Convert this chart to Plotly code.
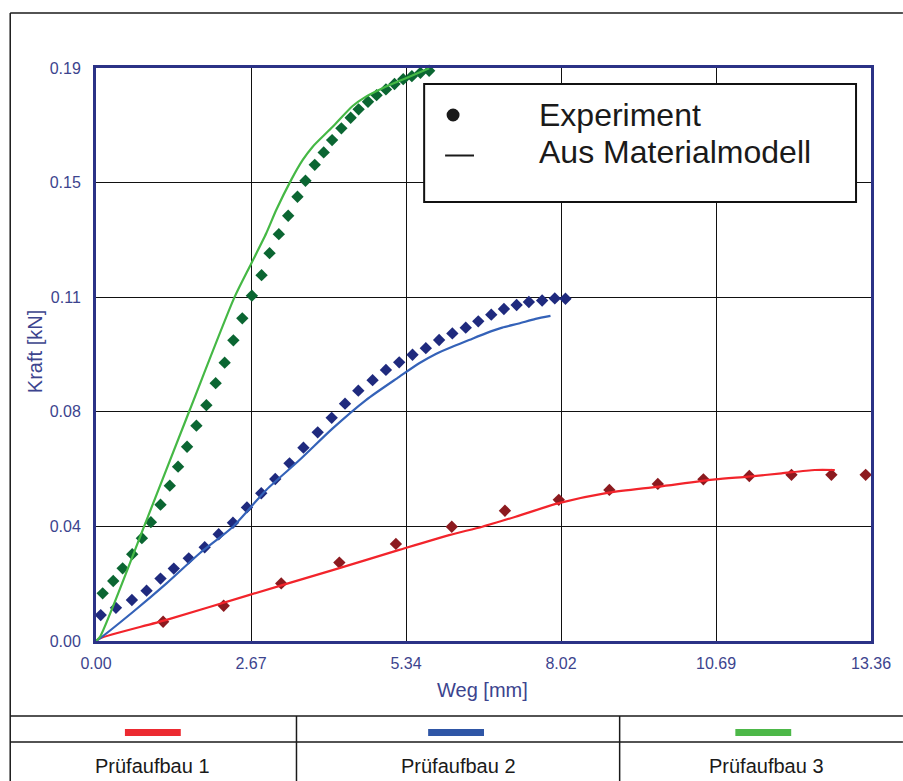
import plotly.graph_objects as go

# ---- data: Weg [mm] / Kraft [kN] ----
# Prüfaufbau 1 (red)
exp1_x = [1.157, 2.201, 3.193, 4.195, 5.170, 6.133, 7.050, 7.978, 8.850, 9.685,
          10.471, 11.262, 11.989, 12.677, 13.268]
exp1_y = [0.0064, 0.0117, 0.0191, 0.0260, 0.0322, 0.0379, 0.0432, 0.0468, 0.0501, 0.0521,
          0.0536, 0.0547, 0.0551, 0.0551, 0.0551]
mod1_x = [0.0, 0.069, 1.216, 2.648, 4.080, 5.227, 6.087, 6.659, 7.233, 7.978, 8.838,
          9.697, 10.672, 11.245, 11.817, 12.392, 12.736]
mod1_y = [0.0, 0.0009, 0.0070, 0.0153, 0.0235, 0.0302, 0.0351, 0.0379, 0.0412, 0.0457, 0.0492,
          0.0512, 0.0536, 0.0545, 0.0556, 0.0567, 0.0567]

# Prüfaufbau 2 (blue)
exp2_x = [0.081, 0.344, 0.619, 0.872, 1.112, 1.341, 1.599, 1.874, 2.115, 2.361,
          2.602, 2.849, 3.090, 3.336, 3.576, 3.822, 4.063, 4.293, 4.522, 4.768,
          4.998, 5.227, 5.456, 5.686, 5.915, 6.143, 6.374, 6.590, 6.814, 7.032,
          7.251, 7.462, 7.691, 7.909, 8.093]
exp2_y = [0.0086, 0.0110, 0.0136, 0.0167, 0.0207, 0.0240, 0.0274, 0.0311, 0.0354, 0.0392,
          0.0443, 0.0490, 0.0537, 0.0589, 0.0641, 0.0692, 0.0740, 0.0787, 0.0830, 0.0865,
          0.0899, 0.0924, 0.0949, 0.0971, 0.0998, 0.1020, 0.1039, 0.1060, 0.1082, 0.1101,
          0.1114, 0.1124, 0.1129, 0.1136, 0.1135]
mod2_x = [0.0, 0.069, 0.641, 1.216, 1.788, 2.361, 2.935, 3.508, 4.080, 4.654, 5.227,
          5.571, 5.858, 6.143, 6.431, 6.718, 7.003, 7.290, 7.577, 7.835]
mod2_y = [0.0, 0.0009, 0.0097, 0.0191, 0.0291, 0.0379, 0.0501, 0.0600, 0.0705, 0.0799, 0.0876,
          0.0921, 0.0952, 0.0976, 0.0998, 0.1020, 0.1039, 0.1053, 0.1068, 0.1078]

# Prüfaufbau 3 (green)
exp3_x = [0.115, 0.297, 0.459, 0.624, 0.791, 0.946, 1.112, 1.272, 1.415, 1.570,
          1.731, 1.903, 2.063, 2.218, 2.368, 2.522, 2.687, 2.854, 2.992, 3.152,
          3.313, 3.473, 3.611, 3.771, 3.925, 4.070, 4.230, 4.390, 4.527, 4.689,
          4.837, 4.998, 5.146, 5.296, 5.445, 5.593, 5.743]
exp3_y = [0.0158, 0.0199, 0.0241, 0.0288, 0.0341, 0.0394, 0.0452, 0.0515, 0.0578, 0.0644,
          0.0714, 0.0782, 0.0855, 0.0923, 0.0997, 0.1070, 0.1145, 0.1213, 0.1286, 0.1349,
          0.1410, 0.1473, 0.1526, 0.1579, 0.1620, 0.1661, 0.1700, 0.1735, 0.1763, 0.1788,
          0.1810, 0.1829, 0.1847, 0.1863, 0.1873, 0.1884, 0.1891]
mod3_x = [0.0, 0.069, 0.872, 1.616, 2.390, 2.677, 2.935, 3.107, 3.365, 3.564, 3.736,
          4.080, 4.424, 4.654, 4.940, 5.342, 5.743]
mod3_y = [0.0, 0.0014, 0.0401, 0.0766, 0.1141, 0.1252, 0.1352, 0.1429, 0.1529, 0.1595, 0.1639,
          0.1705, 0.1774, 0.1805, 0.1833, 0.1866, 0.1899]

x_ticks = [0.0, 2.672, 5.344, 8.016, 10.688, 13.36]
x_labels = ["0.00", "2.67", "5.34", "8.02", "10.69", "13.36"]
y_ticks = [0.0, 0.038, 0.076, 0.114, 0.152, 0.19]
y_labels = ["0.00", "0.04", "0.08", "0.11", "0.15", "0.19"]

setups = ["Prüfaufbau 1", "Prüfaufbau 2", "Prüfaufbau 3"]
line_colors = ["#f2242b", "#3462b8", "#45b845"]
marker_colors = ["#8c1a1f", "#1f2a7e", "#0b6632"]
swatch_colors = ["#ec2a31", "#2f56a6", "#4db849"]

legend_texts = ["Experiment", "Aus Materialmodell"]

# ---- geometry of the page ----
W, H = 903, 781
L, R, T, B = 96, 873, 68, 641
AXIS_BLUE = "#2b3286"
TEXT_BLUE = "#3c448e"
FONT = "Liberation Sans, Arial, sans-serif"


def xp(px):
    return (px - L) / (R - L)


def yp(py):
    return (B - py) / (B - T)


fig = go.Figure()

series = [
    (exp1_x, exp1_y, mod1_x, mod1_y),
    (exp2_x, exp2_y, mod2_x, mod2_y),
    (exp3_x, exp3_y, mod3_x, mod3_y),
]
for i, (ex, ey, mx, my) in enumerate(series):
    fig.add_trace(go.Scatter(
        x=ex, y=ey, mode="markers", name=setups[i] + " Experiment",
        marker=dict(symbol="diamond", size=9.5, color=marker_colors[i], line=dict(width=0)),
        showlegend=False, cliponaxis=False,
    ))
    fig.add_trace(go.Scatter(
        x=mx, y=my, mode="lines", name=setups[i] + " Materialmodell",
        line=dict(color=line_colors[i], width=2.2, shape="spline", smoothing=0.7),
        showlegend=False,
    ))

axis_common = dict(
    showline=True, linecolor=AXIS_BLUE, linewidth=3, mirror=True,
    showgrid=True, gridcolor="#111111", gridwidth=1.4,
    zeroline=False, ticks="",
    tickfont=dict(family=FONT, size=16, color=TEXT_BLUE),
)
fig.update_xaxes(range=[0, 13.36], tickmode="array", tickvals=x_ticks, ticktext=x_labels,
                 ticklabelstandoff=6, **axis_common)
fig.update_yaxes(range=[0, 0.19], tickmode="array", tickvals=y_ticks, ticktext=y_labels,
                 ticklabelstandoff=9, **axis_common)

shapes = []
annotations = []

# outer frame (top and left edges) and the table below the plot
frame = dict(color="#1a1a1a", width=1.5)
shapes.append(dict(type="line", xref="paper", yref="paper",
                   x0=xp(10), x1=xp(905), y0=yp(13), y1=yp(13), line=frame))
shapes.append(dict(type="line", xref="paper", yref="paper",
                   x0=xp(10), x1=xp(10), y0=yp(13), y1=yp(783), line=frame))
for yy in (716, 742):
    shapes.append(dict(type="line", xref="paper", yref="paper",
                       x0=xp(10), x1=xp(905), y0=yp(yy), y1=yp(yy), line=frame))
for xx in (297, 621):
    shapes.append(dict(type="line", xref="paper", yref="paper",
                       x0=xp(xx), x1=xp(xx), y0=yp(716), y1=yp(783), line=frame))

swatch_centers = [153, 457, 765]
text_centers = [153, 459, 768]
for i in range(3):
    c = swatch_centers[i]
    shapes.append(dict(type="rect", xref="paper", yref="paper",
                       x0=xp(c - 28), x1=xp(c + 28), y0=yp(736), y1=yp(729),
                       fillcolor=swatch_colors[i], line=dict(width=0)))
    annotations.append(dict(xref="paper", yref="paper", x=xp(text_centers[i]), y=yp(766),
                            text=setups[i], showarrow=False, xanchor="center", yanchor="middle",
                            font=dict(family=FONT, size=20, color="#1a1a1a")))

# legend box
shapes.append(dict(type="rect", xref="paper", yref="paper",
                   x0=xp(425), x1=xp(858), y0=yp(202), y1=yp(84),
                   fillcolor="white", line=dict(color="#111111", width=2), layer="above"))
shapes.append(dict(type="circle", xref="paper", yref="paper",
                   x0=xp(447.5), x1=xp(460.5), y0=yp(121.5), y1=yp(108.5),
                   fillcolor="#1a1a1a", line=dict(width=0), layer="above"))
shapes.append(dict(type="line", xref="paper", yref="paper",
                   x0=xp(446), x1=xp(475), y0=yp(155.5), y1=yp(155.5),
                   line=dict(color="#1a1a1a", width=2), layer="above"))
for txt, yy in zip(legend_texts, (115, 152)):
    annotations.append(dict(xref="paper", yref="paper", x=xp(538), y=yp(yy),
                            text=txt, showarrow=False, xanchor="left", yanchor="middle",
                            font=dict(family=FONT, size=32, color="#1a1a1a")))

# axis titles
annotations.append(dict(xref="paper", yref="paper", x=xp(483), y=yp(690), text="Weg [mm]",
                        showarrow=False, xanchor="center", yanchor="middle",
                        font=dict(family=FONT, size=20, color=TEXT_BLUE)))
annotations.append(dict(xref="paper", yref="paper", x=xp(35), y=yp(352), text="Kraft [kN]",
                        showarrow=False, xanchor="center", yanchor="middle", textangle=-90,
                        font=dict(family=FONT, size=20, color=TEXT_BLUE)))

fig.update_layout(
    width=W, height=H, autosize=False,
    margin=dict(l=L, r=W - R, t=T, b=H - B, pad=0),
    paper_bgcolor="white", plot_bgcolor="white",
    showlegend=False,
    shapes=shapes, annotations=annotations,
)

fig.write_html("out.html")
